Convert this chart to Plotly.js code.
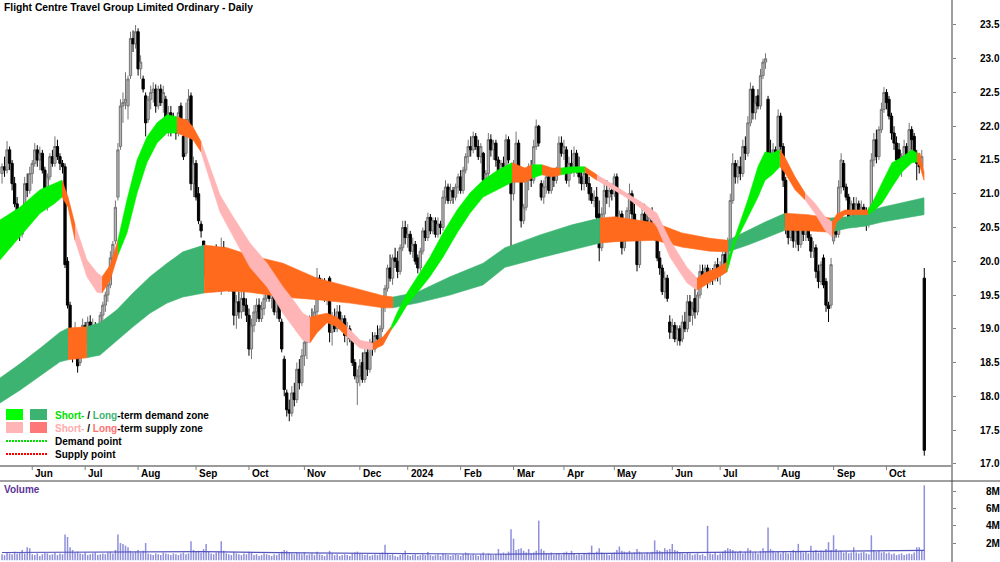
<!DOCTYPE html>
<html><head><meta charset="utf-8">
<script src="https://cdn.plot.ly/plotly-3.0.1.min.js"></script>
<style>html,body{margin:0;padding:0;background:#fff;overflow:hidden}#chart{width:1000px;height:562px}</style>
</head><body><div id="chart"></div>
<script>
// ---- Daily OHLC (trading-day index 0 = mid May 2023) ----
const open = [
21.30,21.40,21.35,21.65,21.45,21.15,20.85,20.60,20.40,20.75,
21.15,21.05,21.30,21.45,21.65,21.50,21.60,21.35,21.00,21.25,
21.55,21.45,21.70,21.55,21.45,21.40,20.00,19.35,18.85,18.60,
18.95,18.50,18.85,19.05,18.80,19.10,18.95,19.05,18.70,18.85,
19.20,19.35,19.50,19.65,20.05,20.30,20.95,21.70,22.30,22.35,
22.30,22.75,23.30,23.22,23.40,22.85,22.70,22.45,22.10,22.40,
22.50,22.55,22.30,22.55,22.35,22.40,22.10,22.20,22.10,21.95,
21.90,22.30,21.85,21.60,22.10,22.45,21.15,21.45,21.00,20.55,
20.30,19.80,19.75,19.65,19.95,20.05,19.95,19.65,20.20,19.95,
19.85,19.60,19.80,19.20,19.40,19.25,19.45,19.35,19.20,18.70,
19.05,19.25,19.35,19.15,19.30,19.45,19.60,19.45,19.55,19.25,
19.40,19.10,18.55,18.05,17.80,17.75,18.05,17.95,18.40,18.20,
18.60,18.80,18.90,19.10,18.95,19.25,19.75,19.55,19.65,19.45,
19.75,18.95,19.15,19.00,19.25,19.10,19.15,18.90,19.00,18.85,
18.50,18.20,18.30,18.50,18.25,18.65,18.40,18.80,18.70,18.90,
18.85,19.00,19.35,19.60,19.90,19.75,20.05,20.00,19.85,20.20,
20.50,20.35,20.40,20.15,20.25,20.05,19.90,20.15,20.45,20.35,
20.65,20.45,20.60,20.40,20.55,20.50,20.95,21.10,20.90,21.05,
20.95,21.10,21.25,21.05,21.35,21.55,21.70,21.65,21.85,21.70,
21.55,21.60,21.20,21.30,21.80,21.65,21.75,21.50,21.30,21.45,
21.40,21.80,21.40,21.00,21.40,21.75,21.20,20.60,20.80,21.20,
21.40,21.20,21.70,22.00,21.15,20.95,21.10,21.25,21.05,21.30,
21.20,21.35,21.75,21.60,21.65,21.20,21.45,21.35,21.60,21.35,
21.25,21.15,21.30,21.15,21.00,20.90,20.95,20.70,20.20,20.70,
21.05,20.95,21.05,21.00,21.25,20.60,20.70,20.20,20.45,20.75,
21.00,20.70,20.55,19.95,20.45,20.70,20.60,20.50,20.65,20.45,
20.60,20.05,19.90,19.55,19.75,19.10,18.95,19.05,18.85,19.00,
18.85,19.10,19.00,19.40,19.20,19.45,19.25,19.50,19.85,19.75,
19.90,19.70,19.85,19.75,19.95,19.80,19.90,20.10,19.95,20.30,
20.90,21.45,21.25,21.40,21.30,21.70,21.60,22.05,22.55,22.20,
22.45,22.30,22.75,22.95,22.40,21.60,21.45,21.65,21.60,22.15,
21.70,21.20,20.50,20.35,20.55,20.30,20.45,20.25,20.50,20.40,
20.55,20.35,20.15,20.20,19.85,19.70,20.05,19.70,19.35,19.35,
20.30,20.45,20.40,21.10,21.45,21.10,20.95,20.65,20.85,20.70,
20.85,20.60,20.80,20.70,20.60,20.75,21.50,21.80,21.55,21.95,
22.25,22.50,22.40,22.15,21.90,21.75,21.65,21.35,21.55,21.70,
21.55,21.95,21.85,21.55,21.45,21.40,19.75];
const high = [
21.45,21.55,21.78,21.70,21.50,21.25,20.95,20.75,20.80,21.25,
21.30,21.40,21.50,21.75,21.72,21.70,21.65,21.40,21.30,21.60,
21.65,21.85,21.80,21.60,21.50,21.45,20.06,19.40,18.90,19.10,
19.00,18.95,19.15,19.10,19.18,19.20,19.15,19.10,18.95,19.25,
19.40,19.55,19.70,20.15,20.30,20.90,21.75,22.40,22.50,22.80,
22.75,23.40,23.42,23.50,23.45,23.05,22.75,22.50,22.45,22.60,
22.65,22.62,22.60,22.62,22.60,22.45,22.30,22.30,22.20,22.05,
22.30,22.35,21.95,22.35,22.55,22.50,21.55,21.50,21.10,20.60,
20.30,19.95,19.90,20.05,20.15,20.25,20.05,20.35,20.30,20.05,
19.90,19.85,19.85,19.50,19.55,19.55,19.60,19.45,19.30,19.15,
19.35,19.45,19.45,19.40,19.50,19.70,19.65,19.60,19.60,19.45,
19.50,19.15,18.60,18.10,17.95,18.15,18.20,18.50,18.55,18.70,
18.90,19.00,19.20,19.30,19.35,19.90,19.80,19.75,19.75,19.70,
19.78,19.25,19.30,19.35,19.35,19.20,19.20,19.10,19.05,18.90,
18.55,18.40,18.55,18.65,18.75,18.75,18.85,18.95,18.95,19.05,
19.05,19.40,19.65,19.95,20.10,20.10,20.20,20.15,20.25,20.60,
20.60,20.55,20.45,20.35,20.30,20.10,20.20,20.50,20.60,20.72,
20.70,20.65,20.65,20.65,20.60,21.05,21.20,21.15,21.15,21.10,
21.15,21.30,21.35,21.40,21.60,21.80,21.85,21.92,21.90,21.80,
21.75,21.62,21.35,21.90,21.88,21.80,21.80,21.55,21.50,21.55,
21.88,21.85,21.45,21.50,21.92,21.80,21.25,20.85,21.30,21.45,
21.50,21.80,22.10,22.02,21.20,21.20,21.30,21.30,21.35,21.35,
21.40,21.85,21.85,21.80,21.70,21.55,21.65,21.70,21.65,21.55,
21.35,21.35,21.35,21.25,21.10,21.05,21.10,20.90,20.80,21.15,
21.20,21.10,21.15,21.30,21.30,20.75,20.75,20.55,20.80,21.15,
21.05,20.85,20.60,20.55,20.80,20.85,20.80,20.75,20.80,20.70,
20.62,20.15,19.95,19.85,19.80,19.20,19.15,19.10,19.05,19.05,
19.20,19.25,19.50,19.50,19.40,19.60,19.55,19.95,19.95,19.95,
19.95,19.90,19.90,20.00,20.05,20.00,20.15,20.20,20.35,21.00,
21.60,21.50,21.50,21.55,21.80,21.85,22.15,22.65,22.60,22.45,
22.55,22.85,23.00,23.08,22.45,21.80,21.75,21.70,22.25,22.20,
21.75,21.25,20.65,20.60,20.60,20.50,20.55,20.60,20.65,20.60,
20.60,20.40,20.30,20.25,19.95,20.00,20.10,19.75,19.40,20.05,
20.55,20.60,21.20,21.60,21.50,21.15,21.00,20.90,20.95,20.95,
20.90,20.90,20.85,20.80,20.80,21.60,21.90,21.95,22.00,22.35,
22.58,22.55,22.45,22.20,22.00,21.85,21.75,21.60,21.80,21.75,
22.05,22.00,21.90,21.65,21.60,21.65,19.90];
const low = [
21.15,21.25,21.30,21.35,21.05,20.80,20.55,20.30,20.35,20.70,
20.95,21.00,21.15,21.40,21.40,21.35,21.30,20.90,20.75,21.20,
21.40,21.40,21.50,21.35,21.30,19.90,19.30,18.78,18.50,18.55,
18.35,18.45,18.75,18.70,18.75,18.90,18.85,18.62,18.60,18.80,
19.05,19.25,19.40,19.60,19.95,20.25,20.90,21.65,22.05,22.25,
22.10,22.70,23.10,23.15,22.75,22.70,22.50,21.85,22.05,22.25,
22.35,22.20,22.25,22.30,22.20,22.00,21.85,21.85,21.90,21.80,
21.85,21.95,21.50,21.55,22.00,21.05,20.95,20.90,20.55,20.35,
19.75,19.60,19.55,19.60,19.80,19.90,19.55,19.50,19.85,19.75,
19.55,19.55,19.05,19.00,19.15,19.15,19.25,19.10,18.60,18.55,
18.95,19.10,19.10,19.10,19.20,19.40,19.40,19.30,19.20,19.15,
19.10,18.65,18.00,17.70,17.63,17.70,17.85,17.90,18.10,18.15,
18.45,18.55,18.80,18.85,18.90,19.20,19.45,19.45,19.40,19.35,
18.80,18.75,18.95,18.95,19.00,18.95,18.80,18.75,18.80,18.45,
18.25,17.87,18.15,18.20,18.20,18.30,18.35,18.60,18.65,18.75,
18.80,18.95,19.25,19.55,19.70,19.65,19.90,19.75,19.80,20.15,
20.25,20.20,20.10,20.05,19.95,19.82,19.85,20.10,20.30,20.30,
20.40,20.40,20.35,20.35,20.40,20.45,20.85,20.85,20.85,20.85,
20.90,21.00,21.00,21.00,21.30,21.45,21.55,21.60,21.65,21.50,
21.45,21.10,21.10,21.25,21.55,21.50,21.40,21.20,21.25,21.30,
21.35,21.45,19.95,20.90,21.25,21.20,20.50,20.55,20.75,21.05,
21.10,21.15,21.65,21.70,20.90,20.85,21.00,21.00,21.00,21.10,
21.15,21.30,21.55,21.50,21.15,21.10,21.30,21.25,21.30,21.15,
21.05,21.05,21.10,20.90,20.85,20.80,20.60,20.00,20.15,20.65,
20.85,20.80,20.90,20.95,20.50,20.45,20.10,20.15,20.40,20.55,
20.60,20.45,19.85,19.90,20.35,20.50,20.40,20.35,20.40,20.30,
20.00,19.80,19.50,19.45,19.40,18.85,18.85,18.80,18.75,18.75,
18.80,18.95,18.95,19.10,19.05,19.15,19.20,19.45,19.70,19.70,
19.60,19.65,19.65,19.70,19.70,19.65,19.80,19.85,19.90,20.25,
20.85,21.15,21.15,21.20,21.25,21.50,21.55,22.00,22.10,22.10,
22.25,22.25,22.70,22.85,21.25,21.35,21.30,21.35,21.55,21.65,
21.10,20.40,20.25,20.30,20.20,20.20,20.15,20.20,20.30,20.30,
20.30,20.05,20.05,19.75,19.60,19.65,19.60,19.25,19.10,19.30,
20.25,20.35,20.35,21.00,21.05,20.90,20.55,20.60,20.60,20.50,
20.55,20.55,20.55,20.45,20.50,20.70,21.40,21.45,21.50,21.90,
22.20,22.25,22.10,21.80,21.65,21.40,21.30,21.25,21.45,21.45,
21.50,21.65,21.50,21.20,21.30,21.35,17.12];
const close = [
21.40,21.35,21.65,21.45,21.15,20.85,20.60,20.40,20.75,21.15,
21.05,21.30,21.45,21.65,21.50,21.60,21.35,21.00,21.25,21.55,
21.45,21.70,21.55,21.45,21.40,19.95,19.35,18.85,18.60,19.00,
18.45,18.85,19.05,18.80,19.10,18.95,19.05,18.68,18.85,19.20,
19.35,19.50,19.65,20.05,20.25,20.80,21.65,22.30,22.35,22.40,
22.70,23.30,23.22,23.40,22.85,22.95,22.55,22.05,22.40,22.50,
22.55,22.30,22.55,22.35,22.50,22.10,22.20,21.95,21.95,21.90,
22.20,22.05,21.55,22.10,22.40,21.15,21.45,20.95,20.60,20.45,
19.80,19.75,19.65,19.95,20.05,19.95,19.65,20.20,19.95,19.85,
19.60,19.80,19.20,19.40,19.25,19.45,19.35,19.20,18.70,19.05,
19.25,19.35,19.15,19.30,19.45,19.60,19.45,19.55,19.25,19.40,
19.15,18.70,18.10,17.80,17.75,18.05,17.95,18.40,18.20,18.60,
18.80,18.90,19.10,18.95,19.25,19.75,19.55,19.70,19.45,19.60,
18.95,19.15,19.00,19.25,19.10,19.15,18.90,19.00,18.85,18.50,
18.30,18.30,18.45,18.25,18.65,18.40,18.80,18.70,18.90,18.85,
19.00,19.35,19.60,19.90,19.75,20.05,20.00,19.85,20.20,20.50,
20.35,20.40,20.15,20.25,20.00,19.90,20.15,20.45,20.35,20.65,
20.45,20.60,20.40,20.55,20.50,20.95,21.10,20.90,21.05,20.95,
21.10,21.25,21.05,21.35,21.55,21.70,21.65,21.85,21.70,21.55,
21.70,21.20,21.30,21.80,21.65,21.75,21.50,21.30,21.45,21.40,
21.80,21.50,21.00,21.40,21.75,21.30,20.60,20.80,21.20,21.40,
21.20,21.70,22.00,21.75,20.95,21.10,21.25,21.05,21.30,21.20,
21.35,21.75,21.60,21.70,21.20,21.45,21.35,21.60,21.35,21.25,
21.15,21.30,21.15,21.00,20.90,20.95,20.65,20.20,20.70,21.05,
20.95,21.05,21.00,21.25,20.60,20.70,20.20,20.45,20.75,21.00,
20.70,20.55,19.95,20.45,20.70,20.60,20.50,20.65,20.45,20.60,
20.05,19.90,19.55,19.75,19.45,18.95,19.05,18.85,19.00,18.82,
19.10,19.00,19.40,19.20,19.30,19.25,19.50,19.85,19.75,19.90,
19.70,19.85,19.75,19.95,19.80,19.90,20.10,19.95,20.30,20.90,
21.45,21.25,21.40,21.30,21.70,21.60,22.05,22.55,22.20,22.35,
22.30,22.75,22.95,23.00,21.60,21.45,21.65,21.40,22.15,21.70,
21.20,20.50,20.35,20.55,20.30,20.45,20.25,20.50,20.40,20.55,
20.35,20.15,20.20,19.85,19.70,19.95,19.65,19.35,19.30,19.95,
20.45,20.40,21.10,21.50,21.10,20.95,20.65,20.85,20.70,20.85,
20.60,20.80,20.70,20.60,20.75,21.50,21.80,21.55,21.95,22.25,
22.50,22.35,22.15,21.90,21.75,21.50,21.35,21.55,21.70,21.55,
21.95,21.80,21.55,21.45,21.40,21.55,17.20];
// ---- Volume (millions) ----
const volume = [
0.7,0.6,0.9,0.8,0.7,1.0,0.8,0.9,1.2,0.8,
1.5,1.4,0.7,0.6,0.8,0.5,0.7,0.9,0.8,0.6,
0.7,0.9,0.6,0.8,0.7,3.0,2.7,1.5,1.2,0.9,
1.0,0.8,0.7,0.9,0.6,0.7,0.8,0.9,0.6,0.7,
0.8,0.7,0.9,1.0,0.8,1.2,3.0,2.0,1.9,1.7,
1.5,1.1,0.9,1.0,1.2,0.9,1.1,2.0,0.8,0.7,
0.6,0.8,0.7,0.6,0.9,0.8,0.7,0.6,0.8,0.7,
0.6,0.8,0.9,0.7,0.8,2.2,1.2,1.0,1.1,0.9,
1.3,1.9,1.0,0.8,0.7,0.9,1.0,2.2,1.1,0.8,
0.7,0.6,1.0,0.8,0.7,0.6,0.8,0.7,1.0,0.9,
0.6,0.7,0.5,0.6,0.8,0.7,0.6,0.5,0.7,0.6,
0.8,1.0,1.2,1.1,0.9,0.8,0.7,0.9,0.8,0.7,
0.9,0.6,0.7,0.8,0.6,1.0,0.7,0.6,0.5,0.7,
1.1,0.8,0.6,0.7,0.5,0.6,0.7,0.6,0.5,0.8,
0.9,1.0,0.8,0.7,0.6,0.7,0.5,0.6,0.7,0.6,
0.7,0.9,1.8,0.8,0.6,0.7,0.5,0.4,0.6,0.8,
1.1,0.6,0.5,0.6,0.7,0.5,0.6,0.7,0.6,0.95,
0.6,0.5,0.6,0.7,0.5,0.8,0.7,0.6,0.5,0.6,
0.7,0.6,0.5,0.7,0.9,0.8,0.6,0.7,0.6,0.5,
0.7,0.9,0.6,0.8,0.7,0.6,0.7,1.3,0.8,0.9,
0.8,1.0,3.6,2.5,1.2,1.3,1.4,1.1,0.9,1.3,
0.8,0.9,1.1,4.6,1.3,1.1,0.8,0.7,0.9,0.6,
0.7,0.8,0.6,0.9,1.0,0.7,1.1,0.8,0.6,0.7,
0.6,0.8,0.7,0.9,1.7,0.8,1.0,1.4,0.9,0.8,
0.7,0.6,0.8,0.9,1.2,1.6,1.1,1.0,0.9,1.1,
0.8,0.9,1.3,1.0,0.8,0.7,0.9,0.8,1.0,2.3,
1.2,1.1,1.0,1.4,1.2,1.3,1.9,1.2,1.1,0.9,
0.8,0.7,0.9,0.8,0.6,0.7,0.8,0.6,0.7,0.5,
4.0,0.8,0.7,0.9,0.6,0.8,1.0,1.2,1.4,1.3,
1.2,1.0,0.9,1.1,0.8,1.0,1.4,1.2,0.9,1.0,
0.8,1.1,1.4,1.0,3.8,1.3,1.1,0.9,1.0,0.8,
1.0,0.9,0.8,0.9,1.2,1.0,1.9,1.1,0.9,1.0,
0.8,1.7,1.0,1.2,0.9,1.1,1.0,1.3,2.1,1.2,
2.9,1.3,1.0,1.1,0.9,1.0,0.8,0.9,1.5,0.9,
0.8,0.9,1.0,0.8,0.7,2.9,1.2,1.0,1.1,0.9,
1.0,0.8,0.9,0.7,0.8,0.6,0.7,0.8,0.6,0.7,
0.8,0.7,0.9,1.5,1.5,1.2,8.7];
const volMaIdx = [0, 40, 80, 120, 160, 200, 240, 280, 320, 366];
const volMa    = [0.9, 0.95, 1.0, 0.85, 0.75, 0.7, 0.8, 0.9, 0.95, 1.15];
// ---- Short-term zone (knots) ----
const stX = [-0.8,7.1,15.1,21.0,23.8,26.2,29.0,33.7,37.7,39.7,42.9,46.0,49.6,53.6,57.5,61.5,65.5,69.4,73.4,75.8,
79.0,82.5,86.5,91.7,98.4,105.2,111.5,115.5,119.4,122.2,125.0,129.0,132.9,136.9,142.1,147.2,151.2,154.4,156.7,160.7,
164.7,169.8,175.0,180.6,185.7,190.9,196.8,202.4,207.5,210.3,214.3,218.3,221.8,226.2,231.3,236.1,241.3,248.0,254.4,259.9,
265.1,271.8,275.8,279.0,283.7,287.7,290.9,296.0,300.0,302.8,305.6,308.7,310.7,314.7,318.7,322.6,326.6,329.4,331.3,334.5,
343.7,346.4,349.2,353.2,357.1,361.1,363.1,364.3,365.9];
const stHi = [20.61,20.80,21.06,21.16,21.20,20.95,20.54,20.02,19.83,19.77,19.94,20.31,20.91,21.50,21.84,22.05,22.17,22.14,22.09,21.99,
21.77,21.40,20.98,20.66,20.27,19.97,19.62,19.43,19.23,19.17,19.20,19.23,19.17,19.03,18.83,18.79,18.88,19.03,19.23,19.53,
19.77,20.06,20.42,20.76,21.01,21.20,21.35,21.46,21.38,21.43,21.43,21.38,21.38,21.40,21.40,21.28,21.16,21.01,20.86,20.71,
20.31,19.91,19.75,19.83,19.90,19.99,20.36,20.91,21.40,21.62,21.60,21.65,21.54,21.25,21.01,20.86,20.66,20.58,20.70,20.76,
20.76,20.94,21.16,21.46,21.54,21.65,21.60,21.60,21.32];
const stLo = [20.02,20.36,20.71,20.86,20.95,20.80,20.31,19.77,19.54,19.53,19.72,20.09,20.42,21.01,21.46,21.75,21.90,21.90,21.84,21.80,
21.62,21.20,20.73,20.37,19.91,19.62,19.23,19.03,18.83,18.79,18.94,19.09,19.03,18.88,18.71,18.69,18.76,18.98,19.10,19.35,
19.53,19.77,20.06,20.42,20.71,20.95,21.06,21.17,21.17,21.23,21.28,21.25,21.28,21.31,21.32,21.20,21.09,20.94,20.76,20.51,
20.06,19.68,19.57,19.65,19.75,19.84,20.27,20.66,20.95,21.20,21.28,21.40,21.31,21.06,20.91,20.71,20.46,20.36,20.58,20.69,
20.69,20.76,20.86,21.10,21.32,21.46,21.47,21.40,21.20];
// D = short-term demand, S = short-term supply, T = turning (orange)
const stZone = "DDDDTTSSSTTDDDDDDTTTSSSSSSSSSTTTTSSTTDDDDDDDDDDTTDTTDDTSSSSSSSTTTDDDDDDTTTSSSTTTDDDDDDTTT".split("");
// ---- Long-term zone (knots) ----
const ltX = [-0.8,7.1,15.1,23.0,26.2,33.7,38.9,45.6,52.0,58.7,65.5,71.8,80.2,89.3,98.4,111.5,125.0,138.1,151.2,155.2,
164.7,177.8,190.9,199.6,213.5,226.2,237.3,243.3,259.1,269.8,280.9,288.1,296.0,302.8,310.7,319.8,328.6,335.7,342.5,349.2,356.3,365.9];
const ltHi = [18.27,18.48,18.71,18.95,19.01,19.03,19.09,19.28,19.53,19.77,19.97,20.14,20.24,20.20,20.09,19.97,19.75,19.62,19.49,19.47,
19.54,19.77,19.97,20.20,20.39,20.54,20.64,20.66,20.57,20.42,20.34,20.31,20.46,20.58,20.71,20.69,20.64,20.66,20.73,20.80,20.86,20.94];
const ltLo = [17.90,18.09,18.30,18.51,18.54,18.57,18.61,18.83,19.03,19.23,19.38,19.47,19.53,19.56,19.54,19.47,19.43,19.38,19.31,19.31,
19.38,19.50,19.65,19.91,20.05,20.17,20.27,20.29,20.31,20.21,20.15,20.14,20.24,20.34,20.46,20.45,20.43,20.49,20.52,20.58,20.63,20.69];
// G = long-term demand, O = long-term supply
const ltZone = "GGGGOGGGGGGGOOOOOOOGGGGGGGOOOOOGGGOOGGGGGG".split("");
// ---- Axis labels ----
const monthIdx = [12,33,54,77,98,120,142,161,182,203,223,243,266,285,308,330,351];
const monthLbl = ["Jun","Jul","Aug","Sep","Oct","Nov","Dec","2024","Feb","Mar","Apr","May","Jun","Jul","Aug","Sep","Oct"];
const priceTicks = [17,17.5,18,18.5,19,19.5,20,20.5,21,21.5,22,22.5,23,23.5];
const volTicks = [2,4,6,8];
const volTickLbl = ["2M","4M","6M","8M"];
const titleText = "Flight Centre Travel Group Limited Ordinary - Daily";

// ---- font pick (narrow if present) ----
function pickFont(){
  const c=document.createElement('canvas').getContext('2d');
  const t='Flight Centre Travel Group';
  c.font='bold 12px monospace'; const w0=c.measureText(t).width;
  c.font='bold 12px "Liberation Sans Narrow", monospace'; const w1=c.measureText(t).width;
  if (Math.abs(w1-w0)>0.5) return {fam:'"Liberation Sans Narrow", "Liberation Sans", Arial, sans-serif', s:12, st:12.5};
  return {fam:'"Liberation Sans", Arial, sans-serif', s:10, st:10.3};
}
const F = pickFont();
const font = (size,color)=>({family:F.fam,size:size,color:color||'#000',weight:'bold'});

const W=952, H=562;
const px=x=>x/W, py=y=>1-y/H;
const idx = close.map((_,i)=>i);

const zoneColor = {D:'#00f000', T:'#ff6a1c', S:'#ffb5b5', G:'#3cb371', O:'#ff6a1c'};

function bandTraces(xs, hi, lo, zones){
  const out=[]; let s=0; const n=xs.length;
  for(let k=1;k<n;k++){
    if(k===n-1 || zones[k]!==zones[s]){
      const X=xs.slice(s,k+1), U=hi.slice(s,k+1), L=lo.slice(s,k+1);
      const col=zoneColor[zones[s]];
      out.push({type:'scatter',mode:'lines',x:X.concat(X.slice().reverse()),y:U.concat(L.slice().reverse()),
        fill:'toself',fillcolor:col,line:{color:col,width:0.6},hoverinfo:'skip',xaxis:'x',yaxis:'y'});
      s=k;
    }
  }
  return out;
}

const traces = [].concat(
  bandTraces(ltX,ltHi,ltLo,ltZone),
  bandTraces(stX,stHi,stLo,stZone),
  [{type:'candlestick',x:idx,open:open,high:high,low:low,close:close,xaxis:'x',yaxis:'y',
    whiskerwidth:0,hoverinfo:'skip',
    increasing:{line:{color:'#747474',width:1},fillcolor:'#b4b4b4'},
    decreasing:{line:{color:'#000000',width:1},fillcolor:'#000000'}},
   {type:'bar',x:idx,y:volume,width:0.6,marker:{color:'#8f8fdc',line:{width:0}},xaxis:'x2',yaxis:'y2',hoverinfo:'skip'},
   {type:'scatter',mode:'lines',x:volMaIdx,y:volMa,line:{color:'#5555c0',width:1.2},xaxis:'x2',yaxis:'y2',hoverinfo:'skip'}]
);

const shapes = [
  {type:'line',xref:'paper',yref:'paper',x0:1,x1:1,y0:0,y1:1,line:{color:'#7f7f7f',width:1.5}},
  {type:'line',xref:'paper',yref:'paper',x0:0,x1:1,y0:py(466),y1:py(466),line:{color:'#9a9a9a',width:2}},
  {type:'line',xref:'paper',yref:'paper',x0:0,x1:1000/W,y0:py(481),y1:py(481),line:{color:'#404040',width:1}},
  // legend swatches
  {type:'rect',xref:'paper',yref:'paper',x0:px(6),x1:px(23),y0:py(420),y1:py(409),fillcolor:'#00ff00',line:{width:0}},
  {type:'rect',xref:'paper',yref:'paper',x0:px(30),x1:px(47),y0:py(420),y1:py(409),fillcolor:'#3cb371',line:{width:0}},
  {type:'rect',xref:'paper',yref:'paper',x0:px(6),x1:px(23),y0:py(433),y1:py(422),fillcolor:'#ffb5b5',line:{width:0}},
  {type:'rect',xref:'paper',yref:'paper',x0:px(30),x1:px(47),y0:py(433),y1:py(422),fillcolor:'#ff7878',line:{width:0}},
  {type:'line',xref:'paper',yref:'paper',x0:px(6),x1:px(47),y0:py(441),y1:py(441),line:{color:'#00dd00',width:2,dash:'2px,1px'}},
  {type:'line',xref:'paper',yref:'paper',x0:px(6),x1:px(47),y0:py(454),y1:py(454),line:{color:'#ff0000',width:2,dash:'2px,1px'}}
];
monthIdx.forEach(m=>shapes.push({type:'line',xref:'x',yref:'paper',x0:m,x1:m,y0:py(466),y1:py(470),line:{color:'#808080',width:1}}));

const ann = [
  {xref:'paper',yref:'paper',x:0,y:py(7),xanchor:'left',yanchor:'middle',xshift:2,showarrow:false,text:titleText,font:font(F.st)},
  {xref:'paper',yref:'paper',x:0,y:py(489),xanchor:'left',yanchor:'middle',xshift:2,showarrow:false,text:'Volume',font:font(F.s,'#5b3399')},
  {xref:'paper',yref:'paper',x:px(53),y:py(415),xanchor:'left',yanchor:'middle',showarrow:false,
   text:'<span style="color:#00e000">Short-</span> / <span style="color:#3cb371">Long</span>-term demand zone',font:font(F.s)},
  {xref:'paper',yref:'paper',x:px(53),y:py(428),xanchor:'left',yanchor:'middle',showarrow:false,
   text:'<span style="color:#ffaaaa">Short-</span> / <span style="color:#ff6f6f">Long</span>-term supply zone',font:font(F.s)},
  {xref:'paper',yref:'paper',x:px(53),y:py(441),xanchor:'left',yanchor:'middle',showarrow:false,text:'Demand point',font:font(F.s)},
  {xref:'paper',yref:'paper',x:px(53),y:py(454),xanchor:'left',yanchor:'middle',showarrow:false,text:'Supply point',font:font(F.s)}
];
monthIdx.forEach((m,k)=>ann.push({xref:'x',yref:'paper',x:m,y:py(473.5),xanchor:'left',yanchor:'middle',xshift:1,showarrow:false,text:monthLbl[k],font:font(F.s)}));

const layout = {
  width:1000,height:562,margin:{l:0,r:48,t:0,b:0},paper_bgcolor:'#fff',plot_bgcolor:'#fff',
  showlegend:false,hovermode:false,boxgap:0.1,boxgroupgap:0,
  xaxis:{domain:[0,1],range:[-0.8,377.0],visible:false,rangeslider:{visible:false},anchor:'y'},
  xaxis2:{domain:[0,1],matches:'x',visible:false,anchor:'y2'},
  yaxis:{domain:[py(466),1],range:[16.967,23.870],side:'right',tickvals:priceTicks,tickformat:'.1f',
    ticks:'outside',ticklen:3,tickcolor:'#808080',showgrid:false,zeroline:false,showline:false,
    tickfont:font(F.s),ticklabelstandoff:22},
  yaxis2:{domain:[0,py(481)],range:[-0.2,9.2],side:'right',tickvals:volTicks,ticktext:volTickLbl,
    ticks:'outside',ticklen:3,tickcolor:'#808080',showgrid:false,zeroline:false,showline:false,
    tickfont:font(F.s),ticklabelstandoff:28},
  shapes:shapes,annotations:ann
};
Plotly.newPlot('chart',traces,layout,{displayModeBar:false,staticPlot:true});
</script></body></html>
